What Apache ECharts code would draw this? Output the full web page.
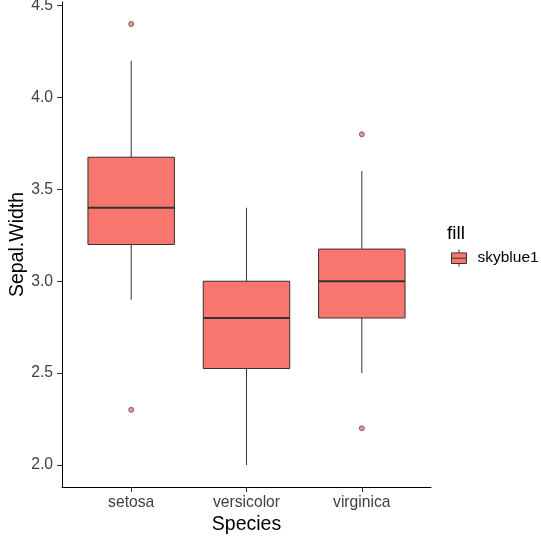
<!doctype html>
<html>
<head>
    <meta charset="UTF-8">
    <title>Sepal.Width by Species</title>
    <script src="https://cdn.jsdelivr.net/npm/echarts@6/dist/echarts.min.js"></script>
    <style>
        html, body { margin: 0; padding: 0; background: #fff; }
        #main { width: 541px; height: 540px; }
    </style>
</head>
<body>
<div id="main"></div>
<script>
    // 数据：箱线图五数 + 离群点
    var species = ['setosa', 'versicolor', 'virginica'];
    var whiskerLow = [2.9, 2.0, 2.5];
    var q1 = [3.2, 2.525, 2.8];
    var median = [3.4, 2.8, 3.0];
    var q3 = [3.675, 3.0, 3.175];
    var whiskerHigh = [4.2, 3.4, 3.6];
    var outliers = [[1, 4.4], [1, 2.3], [3, 3.8], [3, 2.2]];
    var yTicks = [2.0, 2.5, 3.0, 3.5, 4.0, 4.5];

    var fillColor = '#F8766D';
    var lineColor = '#333333';
    var font = 'Liberation Sans, Arial, sans-serif';

    var boxData = species.map(function (s, i) {
        return [i + 1, whiskerLow[i], q1[i], median[i], q3[i], whiskerHigh[i]];
    });

    function renderBox(params, api) {
        var x = api.value(0);
        var pLow = api.coord([x, api.value(1)]);
        var pQ1 = api.coord([x, api.value(2)]);
        var pMed = api.coord([x, api.value(3)]);
        var pQ3 = api.coord([x, api.value(4)]);
        var pHigh = api.coord([x, api.value(5)]);
        var w = api.size([0.75, 0])[0];
        var left = pQ1[0] - w / 2;
        return {
            type: 'group',
            children: [
                { type: 'line', shape: { x1: pLow[0], y1: pLow[1], x2: pQ1[0], y2: pQ1[1] },
                  style: { stroke: lineColor, lineWidth: 1 } },
                { type: 'line', shape: { x1: pQ3[0], y1: pQ3[1], x2: pHigh[0], y2: pHigh[1] },
                  style: { stroke: lineColor, lineWidth: 1 } },
                { type: 'rect', shape: { x: left, y: pQ3[1], width: w, height: pQ1[1] - pQ3[1] },
                  style: { fill: fillColor, stroke: lineColor, lineWidth: 1 } },
                { type: 'line', shape: { x1: left, y1: pMed[1], x2: left + w, y2: pMed[1] },
                  style: { stroke: lineColor, lineWidth: 2.2 } }
            ]
        };
    }

    var myChart = echarts.init(document.getElementById('main'));
    var option = {
        backgroundColor: '#fff',
        animation: false,
        title: {
            text: 'fill',
            left: 447,
            top: 224,
            padding: 0,
            textStyle: { fontFamily: font, fontSize: 19, fontWeight: 'normal', color: '#000' }
        },
        legend: {
            data: ['skyblue1'],
            left: 451,
            top: 249,
            padding: 0,
            itemWidth: 15,
            itemHeight: 17,
            itemGap: 0,
            icon: 'path://M0,3.4 L15,3.4 L15,14 L0,14 Z M7.5,0 L7.5,3.4 M7.5,14 L7.5,17 M0,8.7 L15,8.7',
            itemStyle: { color: fillColor, borderColor: lineColor, borderWidth: 1 },
            textStyle: { fontFamily: font, fontSize: 15.5, color: '#000', padding: [0, 0, 0, 6] }
        },
        grid: {
            left: 62,
            right: 110,
            top: 2,
            bottom: 53,
            containLabel: false,
            outerBoundsMode: 'none'
        },
        xAxis: {
            type: 'value',
            min: 0.4,
            max: 3.6,
            name: 'Species',
            nameLocation: 'middle',
            nameGap: 28,
            nameMoveOverlap: false,
            nameTextStyle: { fontFamily: font, fontSize: 19.5, color: '#000' },
            splitLine: { show: false },
            axisLine: { onZero: false, lineStyle: { color: '#000', width: 1 } },
            axisTick: { length: 5, lineStyle: { color: '#333' }, customValues: [1, 2, 3] },
            axisLabel: {
                customValues: [1, 2, 3],
                margin: 8,
                fontFamily: font,
                fontSize: 15.7,
                color: '#404040',
                formatter: function (v) { return species[Math.round(v) - 1]; }
            }
        },
        yAxis: {
            type: 'value',
            min: 1.88,
            max: 4.52,
            name: 'Sepal.Width',
            nameLocation: 'middle',
            nameGap: 34,
            nameMoveOverlap: false,
            nameTextStyle: { fontFamily: font, fontSize: 19.5, color: '#000' },
            splitLine: { show: false },
            axisLine: { show: true, onZero: false, lineStyle: { color: '#000', width: 1 } },
            axisTick: { show: true, length: 5, lineStyle: { color: '#333' }, customValues: yTicks },
            axisLabel: {
                customValues: yTicks,
                margin: 9,
                fontFamily: font,
                fontSize: 15.7,
                color: '#404040',
                formatter: function (v) { return v.toFixed(1); }
            }
        },
        series: [
            {
                name: 'skyblue1',
                type: 'custom',
                renderItem: renderBox,
                itemStyle: { color: fillColor, borderColor: lineColor },
                encode: { x: 0, y: [1, 2, 3, 4, 5] },
                data: boxData
            },
            {
                name: 'outlier',
                type: 'scatter',
                symbol: 'circle',
                symbolSize: 5,
                itemStyle: { color: fillColor, borderColor: lineColor, borderWidth: 0.8 },
                data: outliers
            }
        ]
    };
    myChart.setOption(option, true);
    window.onresize = myChart.resize;
</script>
</body>
</html>
